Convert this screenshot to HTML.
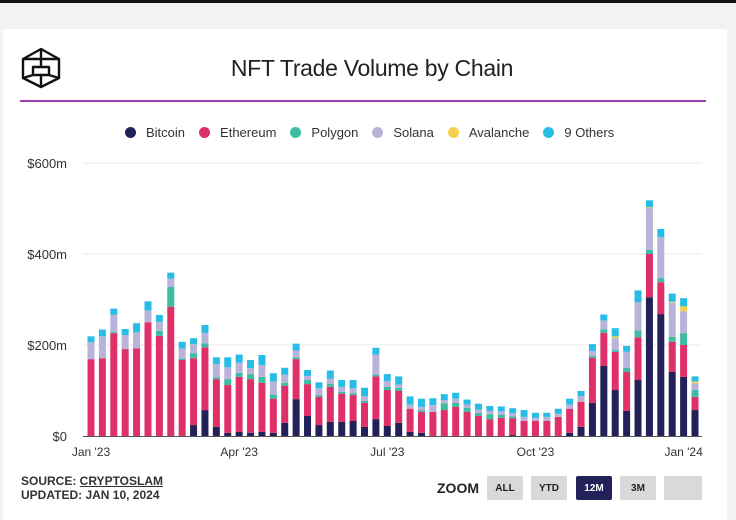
<!DOCTYPE html>
<html><head><meta charset="utf-8"><style>
body{margin:0;width:736px;height:520px;background:#f2f2f2;font-family:"Liberation Sans",sans-serif;position:relative;overflow:hidden}
.top{position:absolute;left:0;top:0;width:736px;height:3px;background:#111}
.card{position:absolute;left:3px;top:29px;width:724px;height:491px;background:#fff}
.title{position:absolute;left:0;width:744px;top:55px;text-align:center;font-size:23px;color:#222;letter-spacing:-0.3px}
.rule{position:absolute;left:20px;top:100px;width:686px;height:1.5px;background:#9b3fb0}
.legend{position:absolute;top:125px;left:125px;font-size:13px;color:#333;display:flex;gap:0}
.li{display:flex;align-items:center;margin-right:14px}
.dot{width:11px;height:11px;border-radius:50%;margin-right:10px}
.src{position:absolute;left:21px;top:474px;font-size:12px;font-weight:bold;color:#333;line-height:14px}
.zoom{position:absolute;left:437px;top:480px;font-size:14px;font-weight:bold;color:#222}
.btn{position:absolute;top:476px;width:36px;height:24px;background:#d9d9d9;border-radius:2px;font-size:10px;font-weight:bold;color:#222;text-align:center;line-height:26px}
</style></head><body>
<div class="top"></div>
<div class="card"></div>
<svg style="position:absolute;left:20px;top:47px" width="42" height="42" viewBox="0 0 42 42">
<g fill="none" stroke="#111" stroke-width="2.4" stroke-linejoin="round"><path d="M21 2 L39 12 L39 31 L21 40 L3 31 L3 12 Z"/><path d="M21 2 L21 12 L39 12 M3 12 L21 12 M21 12 L21 20 M13 20 L29 20 L29 28 L13 28 Z M3 31 L13 28 M39 31 L29 28 M21 40 L21 28"/></g></svg>
<div class="title">NFT Trade Volume by Chain</div>
<div class="rule"></div>
<div class="legend">
<div class="li"><span class="dot" style="background:#22215a"></span>Bitcoin</div>
<div class="li"><span class="dot" style="background:#e0306a"></span>Ethereum</div>
<div class="li"><span class="dot" style="background:#3dbba3"></span>Polygon</div>
<div class="li"><span class="dot" style="background:#b8b3d9"></span>Solana</div>
<div class="li"><span class="dot" style="background:#f5d04e"></span>Avalanche</div>
<div class="li"><span class="dot" style="background:#27bde6"></span>9 Others</div>
</div>
<svg id="chart" style="position:absolute;left:0;top:0" width="736" height="520"></svg>
<div class="src">SOURCE: <u>CRYPTOSLAM</u><br>UPDATED: JAN 10, 2024</div>
<div class="zoom">ZOOM</div>
<div class="btn" style="left:487px">ALL</div>
<div class="btn" style="left:531px">YTD</div>
<div class="btn" style="left:576px;background:#22215a;color:#fff">12M</div>
<div class="btn" style="left:620px">3M</div>
<div class="btn" style="left:664px;width:38px"></div>
<script>
const bitcoin=[0,0,0,0,0,0,0,0,0,24,57,20,7,9,7,9,7,29,81,44,24,31,31,33,20,37,22,29,9,7,0,0,0,0,0,0,0,2,0,0,0,0,7,20,73,154,101,55,123,305,268,141,130,57];
const ethereum=[169,171,226,191,193,250,220,284,167,147,138,105,105,121,118,108,75,81,88,70,62,77,62,57,53,94,79,70,51,46,53,57,64,53,44,37,40,37,33,33,33,42,53,55,99,73,84,86,94,95,70,66,70,29];
const polygon=[0,0,3,0,0,0,11,44,3,11,9,4,13,9,11,13,9,7,4,9,4,7,4,4,4,4,7,7,0,4,0,15,9,9,7,11,7,4,0,0,0,0,0,0,4,7,4,9,15,9,9,11,26,15];
const solana=[37,48,38,31,35,26,20,18,22,20,22,29,26,22,13,26,29,18,15,9,15,11,11,11,11,44,13,7,9,7,15,7,9,7,7,7,7,7,9,7,9,7,9,13,11,20,26,35,62,92,90,75,48,15];
const avalanche=[0,0,0,0,0,0,0,0,0,0,0,0,0,0,0,0,0,0,0,0,0,0,0,0,0,0,0,0,0,0,0,0,0,0,0,0,0,0,0,0,0,0,0,0,0,0,4,0,0,2,0,2,11,4];
const others=[13,15,13,13,20,20,15,13,15,13,18,15,22,18,18,22,18,15,15,13,13,18,15,18,18,15,15,18,18,18,15,13,13,11,13,11,11,11,15,11,9,11,13,11,15,13,18,13,26,15,18,18,18,11];
const yTicks=[0,200,400,600];
const yTickLabels=["$0","$200m","$400m","$600m"];
const xTickIdx=[0,13,26,39,52];
const xTickLabels=["Jan '23","Apr '23","Jul '23","Oct '23","Jan '24"];
const series=[bitcoin,ethereum,polygon,solana,avalanche,others];
const names=["bitcoin","ethereum","polygon","solana","avalanche","others"];
const colors=["#22215a","#e0306a","#3dbba3","#b8b3d9","#f5d04e","#27bde6"];
const NS="http://www.w3.org/2000/svg",svg=document.getElementById('chart');
const y0=436,y1=163,vmax=600,x0=91,x1=695,n=bitcoin.length;
const yS=v=>y0-(v/vmax)*(y0-y1);
const xS=i=>x0+i*(x1-x0)/(n-1);
function mk(t,a){const e=document.createElementNS(NS,t);for(const k in a)e.setAttribute(k,a[k]);svg.appendChild(e);return e;}
yTicks.forEach((v,i)=>{
 if(v>0){const g=mk('line',{x1:83,x2:702,y1:yS(v),y2:yS(v),stroke:'#e8e8e8','stroke-width':1});
 
 }
 const t=mk('text',{x:67,y:yS(v)+5,'text-anchor':'end','font-size':13,fill:'#333','font-family':'Liberation Sans, sans-serif'});
 t.textContent=yTickLabels[i];
 
 
});
for(let i=0;i<n;i++){
 let acc=0;
 series.forEach((s,k)=>{
  const v=s[i];if(v<=0)return;
  const r=mk('rect',{x:xS(i)-3.5,y:yS(acc+v),width:7,height:yS(acc)-yS(acc+v),fill:colors[k]});
  
  
  acc+=v;
 });
}
const ax=mk('line',{x1:83,x2:702,y1:y0+0.5,y2:y0+0.5,stroke:'#555','stroke-width':1});


xTickIdx.forEach((idx,i)=>{
 const t=mk('text',{x:xS(idx),y:456,'text-anchor':'middle','font-size':12,fill:'#333','font-family':'Liberation Sans, sans-serif'});
 t.textContent=xTickLabels[i];
 
 
});
</script>
</body></html>
